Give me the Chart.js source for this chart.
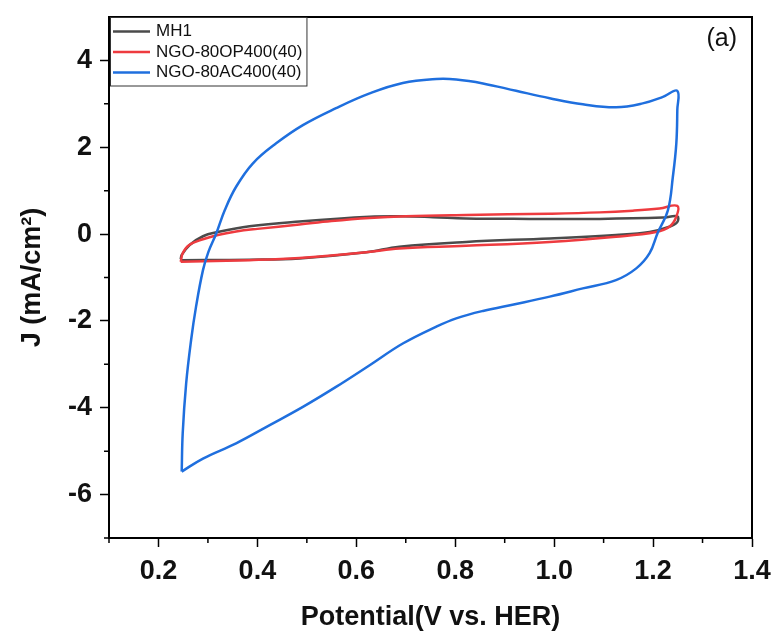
<!DOCTYPE html>
<html>
<head>
<meta charset="utf-8">
<title>CV curves</title>
<script src="https://cdn.jsdelivr.net/npm/chart.js@4.4.0/dist/chart.umd.min.js"></script>
<style>
    html, body { margin: 0; padding: 0; background: #fff; }
</style>
</head>
<body>
<canvas id="myChart" width="777" height="634"></canvas>
<script>
var seriesNames = ["MH1", "NGO-80OP400(40)", "NGO-80AC400(40)"];
var seriesColors = ["#4b4b4b", "#ee3b3f", "#1f6fde"];

// one full cycle per sample: anodic sweep up to 1.25 V, then back
var mh1V = [0.245, 0.247, 0.263, 0.290, 0.317, 0.384, 0.485, 0.627, 0.690, 0.755, 0.822, 0.950, 1.092, 1.220, 1.249,
            1.249, 1.233, 1.193, 1.125, 0.991, 0.822, 0.687, 0.620, 0.485, 0.384, 0.245];
var mh1J = [-0.58, -0.48, -0.25, -0.05, 0.04, 0.18, 0.29, 0.40, 0.41, 0.39, 0.36, 0.35, 0.35, 0.38, 0.41,
            0.28, 0.17, 0.05, -0.02, -0.10, -0.18, -0.29, -0.42, -0.56, -0.59, -0.60];

var op400V = [0.245, 0.249, 0.262, 0.290, 0.320, 0.357, 0.400, 0.485, 0.550, 0.627, 0.700, 0.822, 0.991, 1.092, 1.159, 1.213, 1.249,
              1.247, 1.233, 1.206, 1.125, 0.991, 0.822, 0.687, 0.620, 0.485, 0.384, 0.245];
var op400J = [-0.64, -0.44, -0.25, -0.12, -0.02, 0.06, 0.12, 0.22, 0.30, 0.37, 0.41, 0.44, 0.47, 0.50, 0.54, 0.59, 0.65,
              0.40, 0.17, 0.05, -0.06, -0.18, -0.27, -0.33, -0.42, -0.55, -0.60, -0.64];

var ac400V = [0.247, 0.249, 0.256, 0.266, 0.276, 0.290, 0.301, 0.317, 0.334, 0.357, 0.391, 0.438, 0.492, 0.559, 0.627,
              0.694, 0.762, 0.802, 0.856, 0.923, 0.991, 1.058, 1.125, 1.179, 1.220, 1.249,
              1.249, 1.247, 1.240, 1.230, 1.209, 1.193, 1.166, 1.125, 1.058, 0.991, 0.923, 0.856, 0.802, 0.762,
              0.694, 0.627, 0.559, 0.492, 0.425, 0.357, 0.290, 0.247];
var ac400J = [-5.47, -4.59, -3.44, -2.44, -1.67, -0.83, -0.41, 0.02, 0.55, 1.09, 1.63, 2.09, 2.51, 2.90, 3.24,
              3.48, 3.57, 3.56, 3.47, 3.30, 3.13, 2.99, 2.92, 3.01, 3.16, 3.30,
              2.86, 2.09, 1.32, 0.55, 0.02, -0.44, -0.79, -1.06, -1.25, -1.44, -1.61, -1.77, -1.94, -2.13,
              -2.52, -3.02, -3.52, -3.98, -4.40, -4.82, -5.17, -5.47];

var majorX = [0.2, 0.4, 0.6, 0.8, 1.0, 1.2, 1.4];
var minorX = [0.1, 0.3, 0.5, 0.7, 0.9, 1.1, 1.3];
var majorY = [-6, -4, -2, 0, 2, 4];
var minorY = [-7, -5, -3, -1, 1, 3];

var panelTag = "(a)";

function toPoints(xs, ys) {
    return xs.map(function (v, i) { return {x: v, y: ys[i]}; });
}

// frame, minor ticks, legend box and panel letter
var extras = {
    id: 'extras',
    afterDraw: function (chart) {
        var ctx = chart.ctx;
        var a = chart.chartArea;
        var xs = chart.scales.x;
        var ys = chart.scales.y;
        ctx.save();
        ctx.strokeStyle = '#000';
        ctx.lineWidth = 2;
        ctx.beginPath();
        ctx.moveTo(a.left, a.top);
        ctx.lineTo(a.right, a.top);
        ctx.lineTo(a.right, a.bottom);
        ctx.stroke();

        ctx.lineWidth = 1.5;
        ctx.beginPath();
        minorX.forEach(function (v) {
            var p = xs.getPixelForValue(v);
            ctx.moveTo(p, a.bottom);
            ctx.lineTo(p, a.bottom + 5);
        });
        minorY.forEach(function (v) {
            var p = ys.getPixelForValue(v);
            ctx.moveTo(a.left, p);
            ctx.lineTo(a.left - 5, p);
        });
        ctx.stroke();

        // legend
        var lx = a.left + 1, ly = a.top;
        var rowH = 20.5;
        ctx.font = '17px "Liberation Sans", Arial, sans-serif';
        ctx.textAlign = 'left';
        ctx.textBaseline = 'middle';
        var textW = 0;
        seriesNames.forEach(function (n) { textW = Math.max(textW, ctx.measureText(n).width); });
        ctx.fillStyle = '#fff';
        ctx.fillRect(lx, ly, 46 + textW + 4, 3 * rowH + 7);
        ctx.lineWidth = 1;
        ctx.strokeStyle = '#333';
        ctx.strokeRect(lx + 0.5, ly + 0.5, 46 + textW + 4, 3 * rowH + 7);
        seriesNames.forEach(function (n, i) {
            var cy = ly + 14.5 + i * rowH;
            ctx.strokeStyle = seriesColors[i];
            ctx.lineWidth = 2.5;
            ctx.beginPath();
            ctx.moveTo(lx + 3, cy);
            ctx.lineTo(lx + 40, cy);
            ctx.stroke();
            ctx.fillStyle = '#111';
            ctx.fillText(n, lx + 46, cy);
        });

        ctx.fillStyle = '#111';
        ctx.font = '25px "Liberation Sans", Arial, sans-serif';
        ctx.textAlign = 'right';
        ctx.fillText(panelTag, a.right - 15, a.top + 22);
        ctx.restore();
    }
};

var axisFont = {family: '"Liberation Sans", Arial, sans-serif', size: 27, weight: 'bold'};

var ctx = document.getElementById("myChart").getContext('2d');
var myChart = new Chart(ctx, {
    type: 'scatter',
    data: {
        datasets: [
            {label: seriesNames[0], data: toPoints(mh1V, mh1J), borderColor: seriesColors[0], order: 3},
            {label: seriesNames[1], data: toPoints(op400V, op400J), borderColor: seriesColors[1], order: 2},
            {label: seriesNames[2], data: toPoints(ac400V, ac400J), borderColor: seriesColors[2], order: 1}
        ]
    },
    options: {
        responsive: false,
        animation: false,
        showLine: true,
        layout: {padding: {top: 17, right: 25, left: 0, bottom: 0}},
        elements: {
            point: {radius: 0},
            line: {borderWidth: 2.5, tension: 0.4, fill: false}
        },
        plugins: {
            tooltip: {enabled: false},
            legend: {display: false}
        },
        scales: {
            x: {
                type: 'linear',
                min: 0.1,
                max: 1.4,
                afterBuildTicks: function (s) { s.ticks = majorX.map(function (v) { return {value: v}; }); },
                afterFit: function (s) { s.height = 96; s.paddingLeft = 0; s.paddingRight = 0; },
                ticks: {
                    font: axisFont,
                    color: '#111',
                    padding: 8,
                    maxRotation: 0,
                    autoSkip: false,
                    callback: function (v) { return Number(v).toFixed(1); }
                },
                grid: {drawOnChartArea: false, tickLength: 9, tickWidth: 1.5, tickColor: '#000'},
                border: {color: '#000', width: 2},
                title: {display: true, text: 'Potential(V vs. HER)', font: axisFont, color: '#111', padding: {top: 5, bottom: 0}}
            },
            y: {
                min: -7,
                max: 5,
                afterBuildTicks: function (s) { s.ticks = majorY.map(function (v) { return {value: v}; }); },
                afterFit: function (s) { s.width = 109; s.paddingTop = 0; s.paddingBottom = 0; },
                ticks: {font: axisFont, color: '#111', padding: 8},
                grid: {drawOnChartArea: false, tickLength: 9, tickWidth: 1.5, tickColor: '#000'},
                border: {color: '#000', width: 2},
                title: {display: true, text: 'J (mA/cm\u00B2)', font: axisFont, color: '#111', padding: {top: 16, bottom: 0}}
            }
        }
    },
    plugins: [extras]
});
</script>
</body>
</html>
